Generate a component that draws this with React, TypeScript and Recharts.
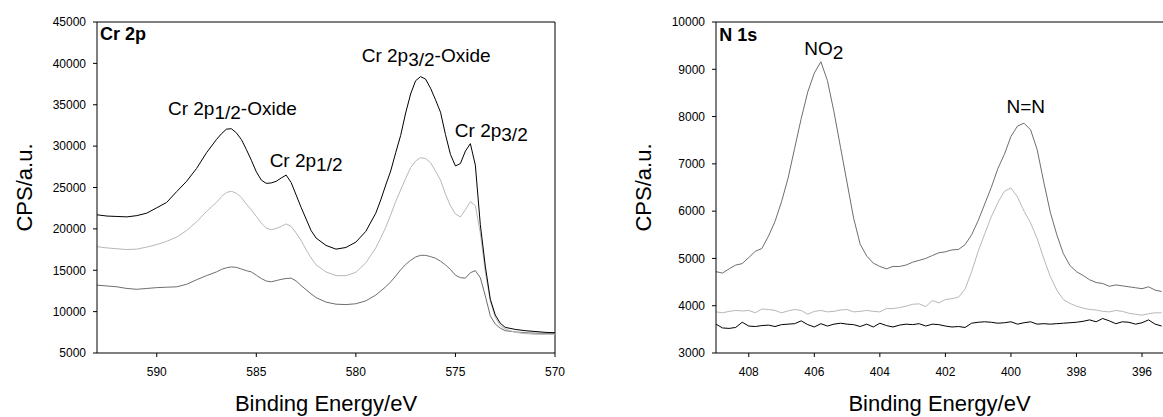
import React from 'react';
import {
  LineChart,
  Line,
  XAxis,
  YAxis,
  ReferenceLine,
  ReferenceDot,
} from 'recharts';

const FONT = 'Arial, "Liberation Sans", Helvetica, sans-serif';

// ---- Cr 2p panel (left) ----
const crEnergy = [
  593, 592.5, 592, 591.5, 591, 590.5, 590, 589.5, 589, 588.5,
  588, 587.5, 587, 586.75, 586.5, 586.25, 586, 585.75, 585.5, 585.25,
  585, 584.75, 584.5, 584.25, 584, 583.75, 583.5, 583.25, 583, 582.75,
  582.5, 582.25, 582, 581.5, 581, 580.5, 580, 579.5, 579, 578.75,
  578.5, 578.25, 578, 577.75, 577.5, 577.25, 577, 576.75, 576.5, 576.25,
  576, 575.75, 575.5, 575.25, 575, 574.75, 574.5, 574.25, 574, 573.75,
  573.5, 573.25, 573, 572.75, 572.5, 572, 571.5, 571, 570.5, 570,
];
// black trace
const crUpper = [
  21700, 21550, 21500, 21450, 21600, 21900, 22550, 23200, 24500, 25750,
  27300, 29200, 30800, 31500, 32050, 32100, 31600, 30800, 29600, 28300,
  26900, 25900, 25500, 25550, 25750, 26150, 26500, 25600, 24100, 22600,
  21200, 19800, 18900, 18000, 17550, 17750, 18400, 19700, 21900, 23500,
  25300, 27000, 29200, 31300, 34000, 36300, 37900, 38400, 38100, 37000,
  35600, 34100, 31400, 29000, 27600, 27900, 29400, 30300, 27700, 20500,
  15500, 11500, 9600, 8600, 8100, 7850, 7700, 7600, 7500, 7450,
];
// light grey trace
const crMiddle = [
  17850, 17700, 17600, 17500, 17550, 17800, 18100, 18500, 19000, 19800,
  20850, 22100, 23200, 23900, 24400, 24550, 24300, 23800, 23000, 22300,
  21500, 20700, 20100, 19900, 20050, 20300, 20600, 20300, 19500, 18600,
  17500, 16500, 15650, 14800, 14350, 14350, 14750, 15900, 17700, 18900,
  20200, 21700, 23300, 24700, 26100, 27400, 28200, 28600, 28500, 28000,
  27000, 25900, 24200, 22800, 21800, 21450, 22300, 23300, 22800, 19500,
  14800, 11300, 9300, 8300, 7900, 7500, 7350, 7250, 7250, 7250,
];
// dark grey trace
const crLower = [
  13200, 13100, 13000, 12800, 12700, 12800, 12900, 12950, 13000, 13300,
  13850, 14350, 14800, 15100, 15300, 15400, 15350, 15150, 14950, 14800,
  14400, 14000, 13700, 13600, 13750, 13900, 14000, 14050, 13700, 13150,
  12650, 12150, 11700, 11150, 10900, 10850, 10950, 11300, 12000, 12500,
  13000, 13600, 14300, 15050, 15700, 16200, 16600, 16800, 16800, 16650,
  16450, 16100, 15650, 15100, 14400, 14100, 14050, 14700, 14950, 14100,
  11900, 9500, 8500, 8000, 7700, 7550, 7450, 7400, 7380, 7370,
];
const crTicksX = [590, 585, 580, 575, 570];
const crTicksY = [5000, 10000, 15000, 20000, 25000, 30000, 35000, 40000, 45000];

// ---- N 1s panel (right) ----
const nEnergy = [
  409, 408.8, 408.6, 408.4, 408.2, 408, 407.8, 407.6, 407.4, 407.2,
  407, 406.8, 406.6, 406.4, 406.2, 406, 405.8, 405.6, 405.4, 405.2,
  405, 404.8, 404.6, 404.4, 404.2, 404, 403.8, 403.6, 403.4, 403.2,
  403, 402.8, 402.6, 402.4, 402.2, 402, 401.8, 401.6, 401.4, 401.2,
  401, 400.8, 400.6, 400.4, 400.2, 400, 399.8, 399.6, 399.4, 399.2,
  399, 398.8, 398.6, 398.4, 398.2, 398, 397.8, 397.6, 397.4, 397.2,
  397, 396.8, 396.6, 396.4, 396.2, 396, 395.8, 395.6, 395.4,
];
// dark grey trace
const nUpper = [
  4720, 4690, 4780, 4860, 4890, 5020, 5150, 5210, 5470, 5780,
  6200, 6700, 7330, 7960, 8520, 8920, 9160, 8760, 8100, 7350,
  6600, 5850, 5300, 5050, 4900, 4830, 4780, 4830, 4830, 4860,
  4920, 4960, 5000, 5060, 5120, 5140, 5180, 5190, 5290, 5500,
  5800, 6150, 6500, 6900, 7200, 7580, 7800, 7860, 7720, 7300,
  6620, 5980, 5500, 5100, 4850, 4720, 4640, 4550, 4490, 4470,
  4410, 4440, 4420, 4400, 4380, 4360, 4400, 4330, 4300,
];
// light grey trace
const nMiddle = [
  3870, 3850, 3880, 3900, 3890, 3900, 3850, 3930, 3920, 3900,
  3850, 3890, 3920, 3900, 3820, 3880, 3900, 3870, 3880, 3910,
  3920, 3870, 3880, 3900, 3880, 3870, 3940, 3940, 3960, 3990,
  4030, 4040, 3980, 4110, 4060, 4130, 4150, 4180, 4350, 4720,
  5150, 5520, 5880, 6180, 6420, 6490, 6300, 6000, 5750, 5420,
  5000, 4620, 4330, 4130, 4050, 3990, 3950, 3920, 3910, 3880,
  3870, 3900, 3880, 3840, 3820, 3800, 3830, 3850, 3850,
];
// black trace
const nLower = [
  3610, 3530, 3520, 3540, 3650, 3570, 3560, 3580, 3590, 3560,
  3600, 3610, 3620, 3680, 3600, 3550, 3620, 3570, 3610, 3630,
  3610, 3600, 3560, 3610, 3550, 3630, 3580, 3550, 3590, 3610,
  3600, 3620, 3570, 3610, 3600, 3570, 3550, 3560, 3540, 3630,
  3650, 3660, 3650, 3630, 3640, 3660, 3610, 3640, 3660, 3610,
  3620, 3610, 3620, 3630, 3640, 3650, 3670, 3700, 3660, 3730,
  3680, 3620, 3660, 3650, 3610, 3640, 3700, 3610, 3570,
];
const nTicksX = [408, 406, 404, 402, 400, 398, 396];
const nTicksY = [3000, 4000, 5000, 6000, 7000, 8000, 9000, 10000];

const crData = crEnergy.map((e, i) => ({
  e,
  upper: crUpper[i],
  middle: crMiddle[i],
  lower: crLower[i],
}));
const nData = nEnergy.map((e, i) => ({
  e,
  upper: nUpper[i],
  middle: nMiddle[i],
  lower: nLower[i],
}));

const BLACK = '#000000';
const LIGHT = '#b8b8b8';
const DARK = '#6e6e6e';

// text with optional subscripts, placed at a reference dot
const Annot = (props: any) => {
  const { viewBox, pieces, anchor = 'middle', bold = false, size = 19 } = props;
  if (!viewBox) return null;
  const x = viewBox.x + (viewBox.width || 0) / 2;
  const y = viewBox.y + (viewBox.height || 0) / 2;
  let shift = 0;
  return (
    <text
      x={x}
      y={y}
      textAnchor={anchor}
      fontFamily={FONT}
      fontSize={size}
      fontWeight={bold ? 700 : 400}
      fill='#000'
    >
      {pieces.map((p: [string, boolean?], i: number) => {
        const target = p[1] ? 4 : 0;
        const dy = target - shift;
        shift = target;
        return (
          <tspan key={i} dy={dy}>
            {p[0]}
          </tspan>
        );
      })}
    </text>
  );
};

const XTitle = (props: any) => {
  const { viewBox } = props;
  if (!viewBox) return null;
  return (
    <text
      x={viewBox.x + viewBox.width / 2}
      y={viewBox.y + 58}
      textAnchor='middle'
      fontFamily={FONT}
      fontSize={22}
      fill='#000'
    >
      Binding Energy/eV
    </text>
  );
};

const YTitle = (props: any) => {
  const { viewBox } = props;
  if (!viewBox) return null;
  const x = viewBox.x + viewBox.width - 65;
  const y = viewBox.y + viewBox.height / 2;
  return (
    <text
      x={x}
      y={y}
      transform={`rotate(-90, ${x}, ${y})`}
      textAnchor='middle'
      fontFamily={FONT}
      fontSize={22}
      fill='#000'
    >
      CPS/a.u.
    </text>
  );
};

const tickStyle = { fill: '#000', fontSize: 12, fontFamily: FONT };

const App: React.FC = () => {
  return (
    <div style={{ position: 'relative', width: 1163, height: 417, background: '#fff' }}>
      <style>{'body{margin:0;overflow:hidden}'}</style>

      <div style={{ position: 'absolute', left: 0, top: 0 }}>
        <LineChart
          width={570}
          height={417}
          data={crData}
          margin={{ top: 22, right: 15, bottom: 34, left: 0 }}
        >
          <XAxis
            dataKey='e'
            type='number'
            domain={[570, 593]}
            reversed
            allowDataOverflow
            ticks={crTicksX}
            height={30}
            tickSize={4}
            tickMargin={10}
            tick={tickStyle}
            axisLine={{ stroke: '#000' }}
            tickLine={{ stroke: '#000' }}
            label={<XTitle />}
          />
          <YAxis
            type='number'
            domain={[5000, 45000]}
            ticks={crTicksY}
            width={97}
            tickSize={4}
            tickMargin={7}
            tick={tickStyle}
            axisLine={{ stroke: '#000' }}
            tickLine={{ stroke: '#000' }}
            label={<YTitle />}
          />
          <ReferenceLine y={45000} stroke='#000' />
          <ReferenceLine x={570} stroke='#000' />
          <Line dataKey='lower' type='linear' stroke={DARK} strokeWidth={1} dot={false} isAnimationActive={false} />
          <Line dataKey='middle' type='linear' stroke={LIGHT} strokeWidth={1} dot={false} isAnimationActive={false} />
          <Line dataKey='upper' type='linear' stroke={BLACK} strokeWidth={1} dot={false} isAnimationActive={false} />
          <ReferenceDot x={592.85} y={42825} r={0} stroke='none' fill='none'
            label={<Annot pieces={[['Cr 2p']]} anchor='start' bold size={18} />} />
          <ReferenceDot x={586.2} y={33760} r={0} stroke='none' fill='none'
            label={<Annot pieces={[['Cr 2p'], ['1/2', true], ['-Oxide']]} />} />
          <ReferenceDot x={582.5} y={27480} r={0} stroke='none' fill='none'
            label={<Annot pieces={[['Cr 2p'], ['1/2', true]]} />} />
          <ReferenceDot x={576.47} y={40170} r={0} stroke='none' fill='none'
            label={<Annot pieces={[['Cr 2p'], ['3/2', true], ['-Oxide']]} />} />
          <ReferenceDot x={573.2} y={31100} r={0} stroke='none' fill='none'
            label={<Annot pieces={[['Cr 2p'], ['3/2', true]]} />} />
        </LineChart>
      </div>

      <div style={{ position: 'absolute', left: 580, top: 0 }}>
        <LineChart
          width={583}
          height={417}
          data={nData}
          margin={{ top: 22, right: 0, bottom: 34, left: 0 }}
        >
          <XAxis
            dataKey='e'
            type='number'
            domain={[395.36, 409]}
            reversed
            allowDataOverflow
            ticks={nTicksX}
            height={30}
            tickSize={4}
            tickMargin={10}
            tick={tickStyle}
            axisLine={{ stroke: '#000' }}
            tickLine={{ stroke: '#000' }}
            label={<XTitle />}
          />
          <YAxis
            type='number'
            domain={[3000, 10000]}
            ticks={nTicksY}
            width={136}
            tickSize={4}
            tickMargin={7}
            tick={tickStyle}
            axisLine={{ stroke: '#000' }}
            tickLine={{ stroke: '#000' }}
            label={<YTitle />}
          />
          <ReferenceLine y={10000} stroke='#000' />
          <Line dataKey='upper' type='linear' stroke={DARK} strokeWidth={1} dot={false} isAnimationActive={false} />
          <Line dataKey='middle' type='linear' stroke={LIGHT} strokeWidth={1} dot={false} isAnimationActive={false} />
          <Line dataKey='lower' type='linear' stroke={BLACK} strokeWidth={1} dot={false} isAnimationActive={false} />
          <ReferenceDot x={408.9} y={9600} r={0} stroke='none' fill='none'
            label={<Annot pieces={[['N 1s']]} anchor='start' bold size={18} />} />
          <ReferenceDot x={405.71} y={9300} r={0} stroke='none' fill='none'
            label={<Annot pieces={[['NO'], ['2', true]]} />} />
          <ReferenceDot x={399.55} y={8075} r={0} stroke='none' fill='none'
            label={<Annot pieces={[['N=N']]} />} />
        </LineChart>
      </div>
    </div>
  );
};

export default App;
